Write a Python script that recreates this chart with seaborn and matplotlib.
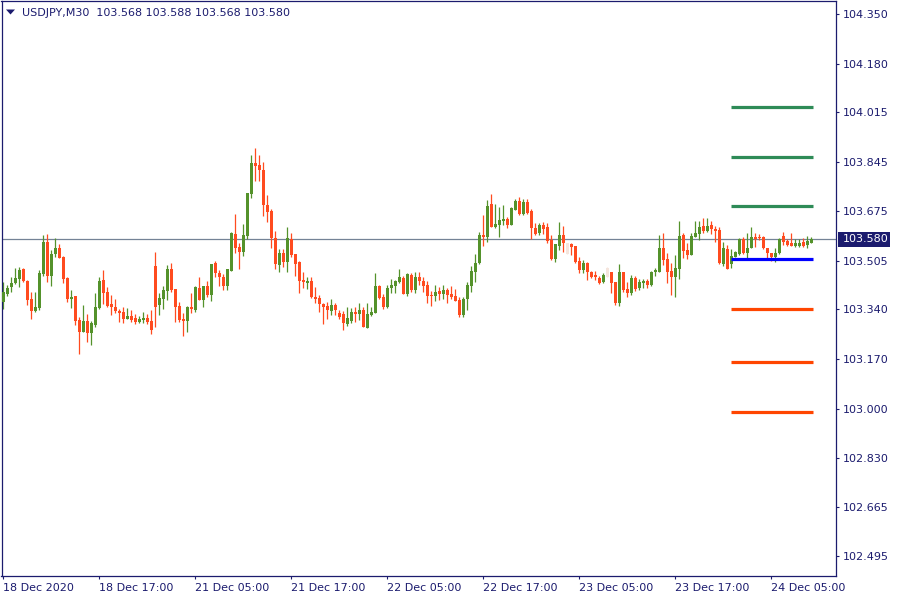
import matplotlib
matplotlib.use("Agg")
import matplotlib.pyplot as plt
import seaborn as sns
import numpy as np
from matplotlib.patches import Rectangle, Polygon

sns.set_theme(style="white")
plt.rcParams['font.family'] = ['DejaVu Sans']

# ---------------- data ----------------
symbol = "USDJPY,M30"
last_ohlc = [103.568, 103.588, 103.568, 103.580]

opens = [
    103.366, 103.391, 103.415, 103.429, 103.443, 103.478, 103.437, 103.375, 103.335, 103.344,
    103.462, 103.570, 103.455, 103.530, 103.549, 103.520, 103.448, 103.376, 103.386, 103.304,
    103.263, 103.300, 103.260, 103.286, 103.343, 103.440, 103.400, 103.358, 103.348, 103.335,
    103.332, 103.307, 103.317, 103.309, 103.298, 103.303, 103.311, 103.300, 103.489, 103.354,
    103.375, 103.403, 103.478, 103.409, 103.352, 103.307, 103.300, 103.348, 103.337, 103.413,
    103.372, 103.420, 103.389, 103.498, 103.464, 103.450, 103.421, 103.472, 103.597, 103.554,
    103.536, 103.590, 103.735, 103.840, 103.833, 103.817, 103.696, 103.677, 103.583, 103.493,
    103.533, 103.502, 103.580, 103.529, 103.502, 103.440, 103.430, 103.437, 103.382, 103.377,
    103.359, 103.351, 103.335, 103.356, 103.328, 103.324, 103.290, 103.299, 103.332, 103.325,
    103.337, 103.277, 103.320, 103.328, 103.420, 103.382, 103.347, 103.413, 103.420, 103.434,
    103.447, 103.392, 103.457, 103.406, 103.450, 103.437, 103.423, 103.389, 103.385, 103.402,
    103.392, 103.407, 103.393, 103.385, 103.372, 103.320, 103.375, 103.421, 103.468, 103.497,
    103.594, 103.588, 103.699, 103.622, 103.628, 103.643, 103.649, 103.628, 103.679, 103.710,
    103.665, 103.707, 103.676, 103.619, 103.600, 103.628, 103.622, 103.577, 103.512, 103.557,
    103.594, 103.566, 103.563, 103.556, 103.505, 103.474, 103.499, 103.468, 103.457, 103.448,
    103.434, 103.482, 103.468, 103.433, 103.362, 103.468, 103.409, 103.395, 103.448, 103.412,
    103.429, 103.438, 103.423, 103.466, 103.468, 103.550, 103.511, 103.472, 103.451, 103.478,
    103.594, 103.543, 103.525, 103.588, 103.597, 103.625, 103.609, 103.628, 103.613, 103.611,
    103.495, 103.546, 103.494, 103.520, 103.528, 103.580, 103.531, 103.550, 103.588, 103.588,
    103.586, 103.548, 103.533, 103.520, 103.531, 103.591, 103.573, 103.566, 103.557, 103.557,
    103.571, 103.560, 103.568,
]
highs = [
    103.434, 103.423, 103.449, 103.482, 103.483, 103.480, 103.440, 103.398, 103.400, 103.474,
    103.594, 103.597, 103.543, 103.583, 103.563, 103.521, 103.449, 103.406, 103.387, 103.312,
    103.355, 103.324, 103.301, 103.397, 103.451, 103.474, 103.417, 103.388, 103.375, 103.341,
    103.349, 103.343, 103.337, 103.324, 103.317, 103.331, 103.324, 103.337, 103.536, 103.394,
    103.420, 103.491, 103.498, 103.410, 103.364, 103.327, 103.352, 103.396, 103.421, 103.450,
    103.421, 103.437, 103.496, 103.505, 103.474, 103.461, 103.479, 103.605, 103.666, 103.568,
    103.632, 103.739, 103.867, 103.891, 103.867, 103.844, 103.731, 103.684, 103.609, 103.546,
    103.545, 103.622, 103.602, 103.530, 103.505, 103.468, 103.451, 103.449, 103.417, 103.388,
    103.362, 103.366, 103.375, 103.360, 103.337, 103.333, 103.347, 103.343, 103.349, 103.362,
    103.347, 103.360, 103.347, 103.465, 103.422, 103.392, 103.422, 103.444, 103.440, 103.477,
    103.454, 103.463, 103.465, 103.467, 103.467, 103.449, 103.437, 103.402, 103.423, 103.417,
    103.423, 103.413, 103.420, 103.408, 103.381, 103.381, 103.434, 103.488, 103.529, 103.603,
    103.662, 103.714, 103.734, 103.700, 103.691, 103.696, 103.656, 103.688, 103.716, 103.725,
    103.716, 103.716, 103.682, 103.636, 103.636, 103.640, 103.636, 103.594, 103.563, 103.639,
    103.625, 103.567, 103.566, 103.557, 103.520, 103.508, 103.500, 103.472, 103.471, 103.454,
    103.465, 103.483, 103.469, 103.434, 103.495, 103.469, 103.432, 103.456, 103.454, 103.442,
    103.443, 103.442, 103.472, 103.480, 103.594, 103.602, 103.531, 103.497, 103.525, 103.642,
    103.600, 103.566, 103.600, 103.642, 103.642, 103.651, 103.651, 103.642, 103.625, 103.620,
    103.571, 103.560, 103.545, 103.539, 103.585, 103.588, 103.600, 103.622, 103.600, 103.597,
    103.591, 103.549, 103.534, 103.548, 103.583, 103.605, 103.579, 103.602, 103.579, 103.579,
    103.583, 103.590, 103.588,
]
lows = [
    103.341, 103.386, 103.400, 103.427, 103.417, 103.432, 103.354, 103.306, 103.332, 103.337,
    103.455, 103.434, 103.421, 103.520, 103.514, 103.429, 103.366, 103.345, 103.286, 103.187,
    103.262, 103.229, 103.218, 103.280, 103.341, 103.358, 103.347, 103.320, 103.326, 103.295,
    103.294, 103.306, 103.295, 103.289, 103.293, 103.294, 103.291, 103.255, 103.280, 103.320,
    103.341, 103.372, 103.398, 103.297, 103.297, 103.250, 103.263, 103.328, 103.332, 103.370,
    103.349, 103.383, 103.369, 103.450, 103.421, 103.407, 103.407, 103.470, 103.533, 103.478,
    103.522, 103.579, 103.721, 103.780, 103.780, 103.659, 103.639, 103.550, 103.478, 103.467,
    103.486, 103.468, 103.520, 103.455, 103.395, 103.412, 103.408, 103.377, 103.362, 103.332,
    103.290, 103.307, 103.320, 103.320, 103.307, 103.269, 103.283, 103.294, 103.297, 103.303,
    103.279, 103.275, 103.317, 103.326, 103.375, 103.342, 103.343, 103.397, 103.395, 103.429,
    103.391, 103.386, 103.400, 103.397, 103.423, 103.400, 103.360, 103.351, 103.369, 103.372,
    103.375, 103.360, 103.376, 103.368, 103.315, 103.315, 103.337, 103.400, 103.434, 103.496,
    103.556, 103.571, 103.620, 103.617, 103.588, 103.628, 103.617, 103.627, 103.678, 103.661,
    103.661, 103.665, 103.579, 103.594, 103.594, 103.597, 103.566, 103.508, 103.503, 103.543,
    103.537, 103.529, 103.525, 103.497, 103.463, 103.463, 103.440, 103.448, 103.440, 103.426,
    103.431, 103.451, 103.397, 103.354, 103.351, 103.400, 103.381, 103.389, 103.403, 103.406,
    103.412, 103.414, 103.421, 103.455, 103.466, 103.491, 103.431, 103.389, 103.383, 103.443,
    103.515, 103.511, 103.524, 103.586, 103.577, 103.600, 103.605, 103.597, 103.571, 103.495,
    103.488, 103.476, 103.480, 103.519, 103.527, 103.529, 103.514, 103.548, 103.554, 103.577,
    103.545, 103.508, 103.506, 103.503, 103.530, 103.560, 103.557, 103.556, 103.554, 103.554,
    103.554, 103.548, 103.568,
]
closes = [
    103.400, 103.414, 103.431, 103.447, 103.474, 103.437, 103.372, 103.335, 103.348, 103.465,
    103.570, 103.455, 103.530, 103.549, 103.516, 103.442, 103.376, 103.383, 103.301, 103.263,
    103.301, 103.260, 103.294, 103.348, 103.438, 103.397, 103.351, 103.347, 103.334, 103.328,
    103.306, 103.317, 103.303, 103.296, 103.308, 103.311, 103.296, 103.269, 103.349, 103.377,
    103.406, 103.478, 103.406, 103.349, 103.303, 103.300, 103.348, 103.341, 103.416, 103.372,
    103.420, 103.389, 103.495, 103.463, 103.450, 103.421, 103.478, 103.602, 103.550, 103.536,
    103.593, 103.738, 103.840, 103.830, 103.817, 103.696, 103.674, 103.583, 103.495, 103.534,
    103.502, 103.584, 103.526, 103.495, 103.437, 103.433, 103.437, 103.381, 103.375, 103.359,
    103.347, 103.337, 103.356, 103.337, 103.313, 103.294, 103.310, 103.332, 103.325, 103.337,
    103.280, 103.323, 103.331, 103.420, 103.380, 103.347, 103.413, 103.422, 103.437, 103.450,
    103.392, 103.461, 103.406, 103.450, 103.437, 103.421, 103.386, 103.385, 103.399, 103.392,
    103.407, 103.389, 103.383, 103.369, 103.320, 103.375, 103.423, 103.471, 103.497, 103.594,
    103.586, 103.693, 103.622, 103.632, 103.645, 103.649, 103.628, 103.687, 103.710, 103.665,
    103.707, 103.668, 103.617, 103.597, 103.628, 103.614, 103.574, 103.512, 103.563, 103.594,
    103.566, 103.529, 103.554, 103.503, 103.474, 103.497, 103.466, 103.449, 103.451, 103.429,
    103.457, 103.451, 103.431, 103.362, 103.468, 103.406, 103.397, 103.448, 103.408, 103.434,
    103.438, 103.423, 103.468, 103.474, 103.550, 103.508, 103.468, 103.451, 103.481, 103.590,
    103.540, 103.525, 103.590, 103.601, 103.622, 103.609, 103.625, 103.613, 103.607, 103.497,
    103.548, 103.478, 103.522, 103.535, 103.580, 103.531, 103.550, 103.588, 103.580, 103.583,
    103.548, 103.531, 103.520, 103.533, 103.580, 103.571, 103.560, 103.557, 103.566, 103.568,
    103.557, 103.574, 103.580,
]
ghost_bars = [141, 151]

time_labels = ["18 Dec 2020", "18 Dec 17:00", "21 Dec 05:00", "21 Dec 17:00",
               "22 Dec 05:00", "22 Dec 17:00", "23 Dec 05:00", "23 Dec 17:00",
               "24 Dec 05:00"]
bars_per_label = 24

price_ticks = [104.350, 104.180, 104.015, 103.845, 103.675, 103.505,
               103.340, 103.170, 103.000, 102.830, 102.665, 102.495]
price_tick_labels = ["104.350", "104.180", "104.015", "103.845", "103.675", "103.505",
                     "103.340", "103.170", "103.000", "102.830", "102.665", "102.495"]

pivot_levels = [104.030, 103.860, 103.692, 103.511, 103.340, 103.159, 102.988]
pivot_start_bar = 182
bid_price = 103.580

# ---------------- style ----------------
NAVY = "#1b1b6e"
BULL = "#54922B"
BEAR = "#FF4B1F"
GHOST = "#F5E5DD"
BID = "#748396"
pivot_colors = ["#2E8B57", "#2E8B57", "#2E8B57", "#0000FF", "#FF4500", "#FF4500", "#FF4500"]

W, H = 900, 600
fig = plt.figure(figsize=(9, 6), dpi=100)
fig.patch.set_facecolor("white")
ax = fig.add_axes([1.5 / W, 24 / H, 834.5 / W, 575 / H])
ax.set_facecolor("white")

n = len(opens)
x = np.arange(n)
o = np.array(opens); h = np.array(highs); l = np.array(lows); c = np.array(closes)
cols = [BULL if c[i] >= o[i] else BEAR for i in range(n)]
for g in ghost_bars:
    cols[g] = GHOST

# bid line (behind candles)
ax.axhline(bid_price, color=BID, lw=0.9, zorder=1)

# wicks
ax.vlines(x, l, h, colors=cols, linewidth=0.9, zorder=2)
# bodies
body_bottom = np.minimum(o, c)
body_h = np.maximum(np.abs(c - o), 0.0035)
ax.bar(x, body_h, bottom=body_bottom, width=0.72, color=cols, linewidth=0, zorder=3)

# pivot levels
for lvl, col in zip(pivot_levels, pivot_colors):
    sns.lineplot(x=[pivot_start_bar - 0.2, n - 0.7], y=[lvl, lvl], color=col,
                 linewidth=2.3, ax=ax, zorder=4, solid_capstyle="butt")

ax.set_xlim(-0.45, 208.175)
ax.set_ylim(102.4281, 104.3939)

# axes frame
for side in ["left", "right", "top", "bottom"]:
    ax.spines[side].set_visible(True)
    ax.spines[side].set_color(NAVY)
    ax.spines[side].set_linewidth(0.9)

# y ticks on right
ax.yaxis.tick_right()
ax.set_yticks(price_ticks)
ax.set_yticklabels(price_tick_labels)
ax.tick_params(axis="y", which="major", right=True, left=False, length=2.4, width=0.8,
               color=NAVY, labelcolor=NAVY, labelsize=8, pad=2.8, direction="out")

# x ticks
ax.set_xticks(list(range(0, bars_per_label * len(time_labels), bars_per_label)))
ax.set_xticklabels(time_labels)
ax.tick_params(axis="x", which="major", bottom=True, length=2.5, width=0.8,
               color=NAVY, labelcolor=NAVY, labelsize=8, pad=2.2, direction="out")
for lbl in ax.get_xticklabels():
    lbl.set_horizontalalignment("left")

ax.set_xlabel(""); ax.set_ylabel("")
ax.grid(False)
if ax.get_legend() is not None:
    ax.get_legend().remove()

# header
header = "%s  %.3f %.3f %.3f %.3f" % (symbol, *last_ohlc)
fig.text(22 / W, 1 - 12.5 / H, header, fontsize=8, color=NAVY, va="center", ha="left")
tri = Polygon([[6 / W, 1 - 9.5 / H], [15 / W, 1 - 9.5 / H], [10.5 / W, 1 - 14.5 / H]],
              closed=True, transform=fig.transFigure, facecolor=NAVY, edgecolor="none")
fig.patches.append(tri)

# bid price label on the axis
fig.canvas.draw()
yb = ax.transData.transform((0, bid_price))[1]  # display pixels from bottom
box = Rectangle((838 / W, (yb - 7.5) / H), 51.5 / W, 15 / H, transform=fig.transFigure,
                facecolor=NAVY, edgecolor="none", zorder=10)
fig.patches.append(box)
fig.text(842.5 / W, yb / H, "%.3f" % bid_price, fontsize=8, color="white",
         va="center", ha="left", zorder=11)

fig.savefig("out.png", dpi=100, facecolor="white")
